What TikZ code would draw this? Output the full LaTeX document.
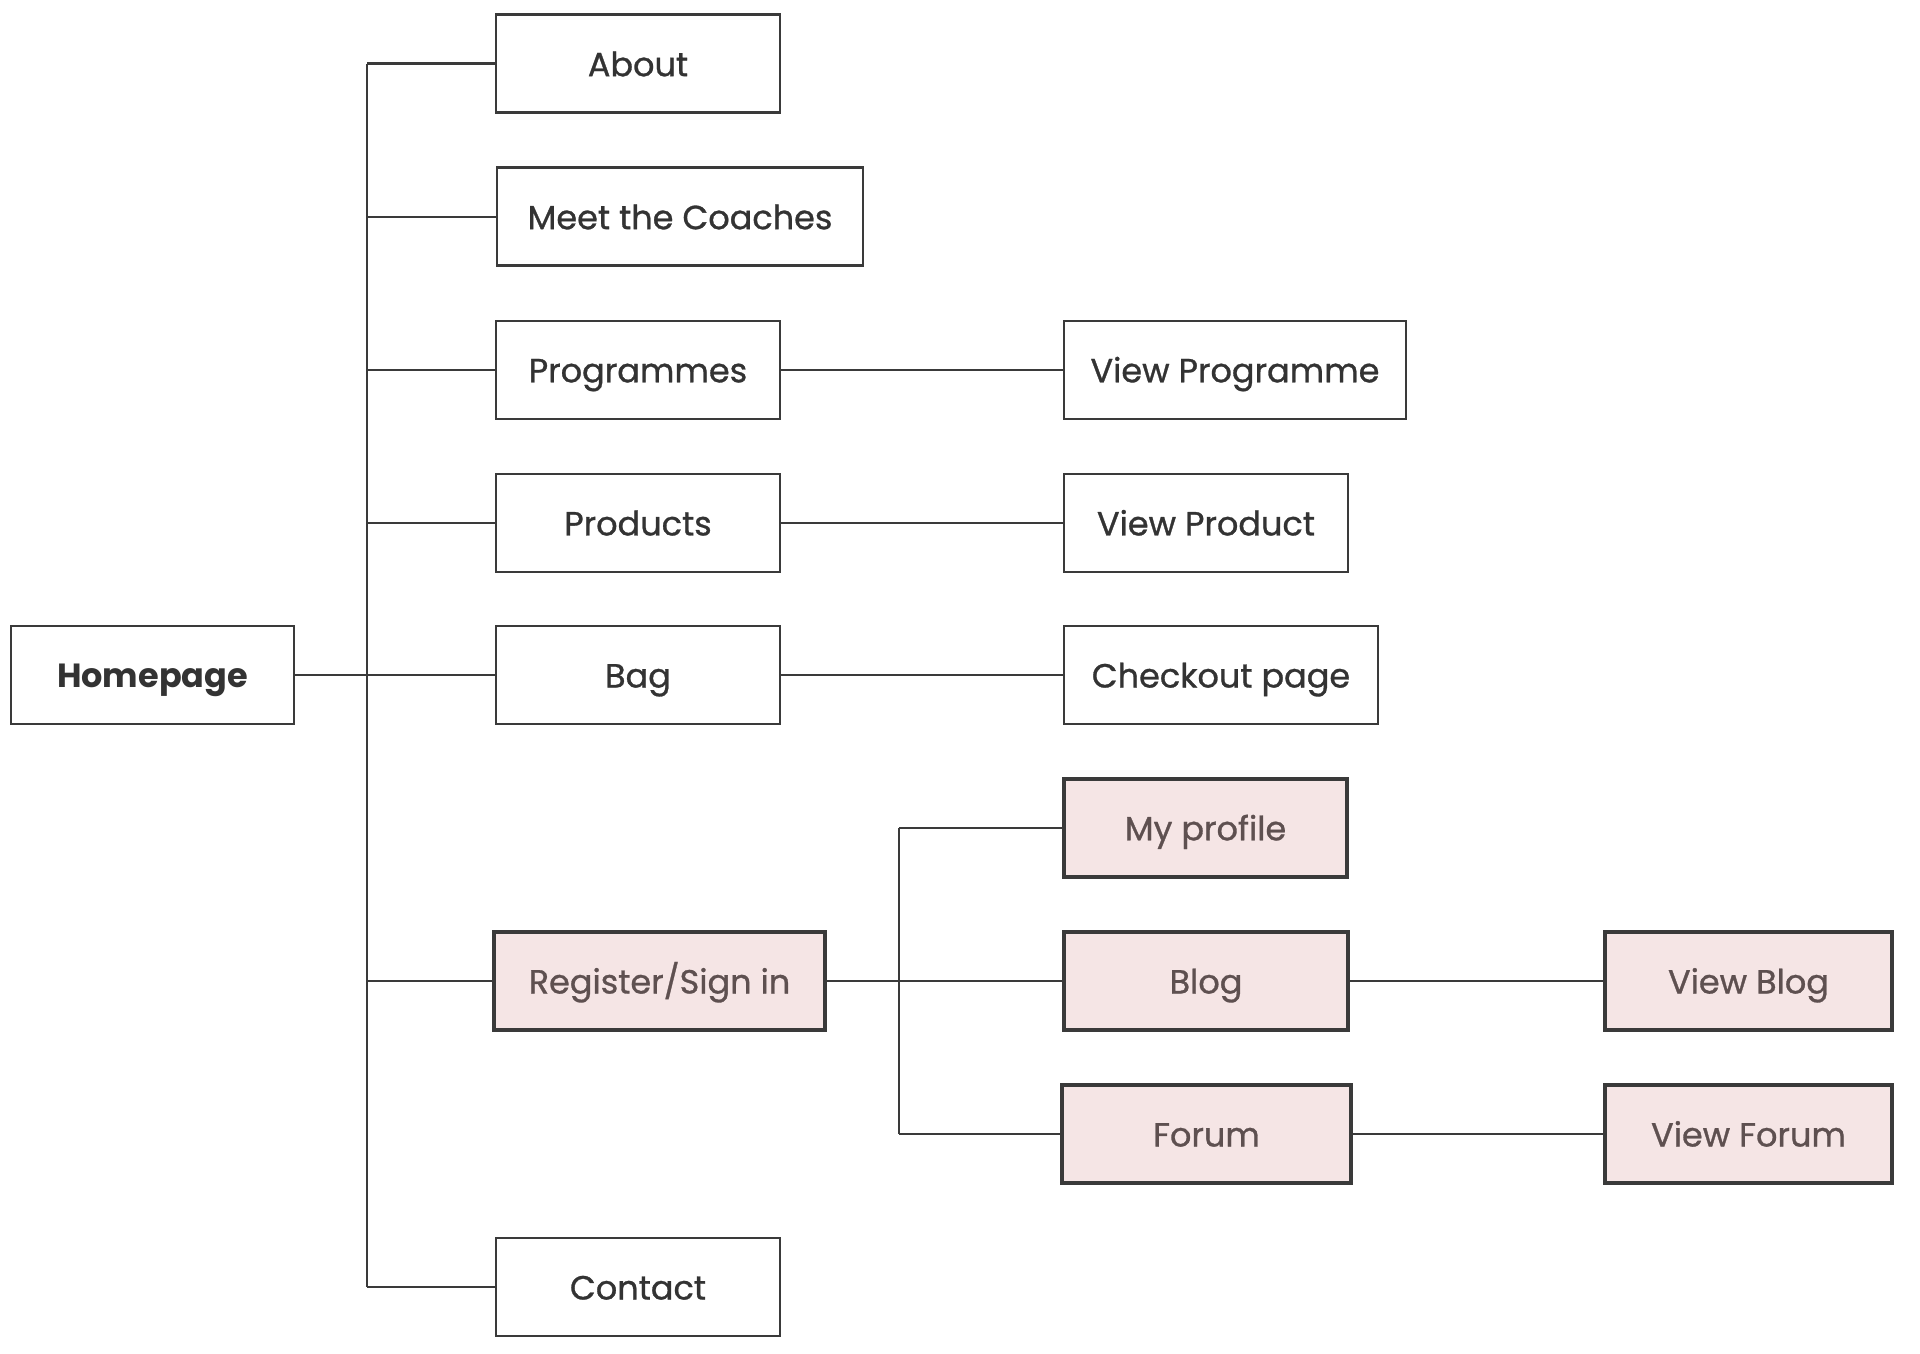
\documentclass[tikz,border=0pt]{standalone}
\usepackage{fontspec}
\setmainfont{Poppins}[UprightFeatures={FakeBold=0.9}]
\definecolor{linec}{HTML}{3A3A3A}
\definecolor{textc}{HTML}{333333}
\definecolor{pinkf}{HTML}{F5E5E5}
\definecolor{pinkt}{HTML}{5E5050}
\begin{document}
\begin{tikzpicture}[x=1pt,y=-1pt,
  box/.style={draw=linec, line width=2.6pt, fill=white, text=textc,
    minimum height=98pt, inner sep=0pt, text height=25pt, text depth=0pt,
    font=\fontsize{33.5}{38}\selectfont},
  pbox/.style={box, fill=pinkf, text=pinkt, line width=3.6pt},
  conn/.style={draw=linec, line width=2.4pt}]
\useasboundingbox (0,0) rectangle (1920,1354);
% left level
\node[box, minimum width=283pt, font=\fontsize{33.5}{38}\selectfont\bfseries] (home) at (152.5,675) {Homepage};
\node[box, minimum width=284pt] (about) at (638,63.7) {About};
\node[box, minimum width=366pt] (meet) at (680,216.7) {Meet the Coaches};
\node[box, minimum width=284pt] (prog) at (638,369.8) {Programmes};
\node[box, minimum width=284pt] (prod) at (638,522.9) {Products};
\node[box, minimum width=284pt] (bag) at (638,675) {Bag};
\node[pbox, minimum width=331pt] (reg) at (659.5,981) {Register/Sign in};
\node[box, minimum width=284pt] (contact) at (638,1287) {Contact};
% right level
\node[box, minimum width=342pt] (vprog) at (1235,369.8) {View Programme};
\node[box, minimum width=284pt] (vprod) at (1206,522.9) {View Product};
\node[box, minimum width=314pt] (check) at (1221,675) {Checkout page};
\node[pbox, minimum width=283pt] (prof) at (1205.5,827.8) {My profile};
\node[pbox, minimum width=284pt] (blog) at (1206,981) {Blog};
\node[pbox, minimum width=289pt] (forum) at (1206.5,1134) {Forum};
\node[pbox, minimum width=287pt] (vblog) at (1748.5,981) {View Blog};
\node[pbox, minimum width=287pt] (vforum) at (1748.5,1134) {View Forum};
% trunks
\coordinate (tt) at (367,63.7);
\coordinate (tb) at (367,1287);
\coordinate (st) at (899,827.8);
\coordinate (sb) at (899,1134);
\draw[conn] (tt) -- (tb);
\draw[conn] (home.east) -- (bag.west);
\foreach \n in {about,meet,prog,prod,reg,contact}
  \draw[conn] (\n.west) -- (\n.west -| tt);
\draw[conn] (prog.east) -- (vprog.west);
\draw[conn] (prod.east) -- (vprod.west);
\draw[conn] (bag.east) -- (check.west);
\draw[conn] (st) -- (sb);
\draw[conn] (reg.east) -- (blog.west);
\draw[conn] (prof.west) -- (st);
\draw[conn] (forum.west) -- (sb);
\draw[conn] (blog.east) -- (vblog.west);
\draw[conn] (forum.east) -- (vforum.west);
\end{tikzpicture}
\end{document}
